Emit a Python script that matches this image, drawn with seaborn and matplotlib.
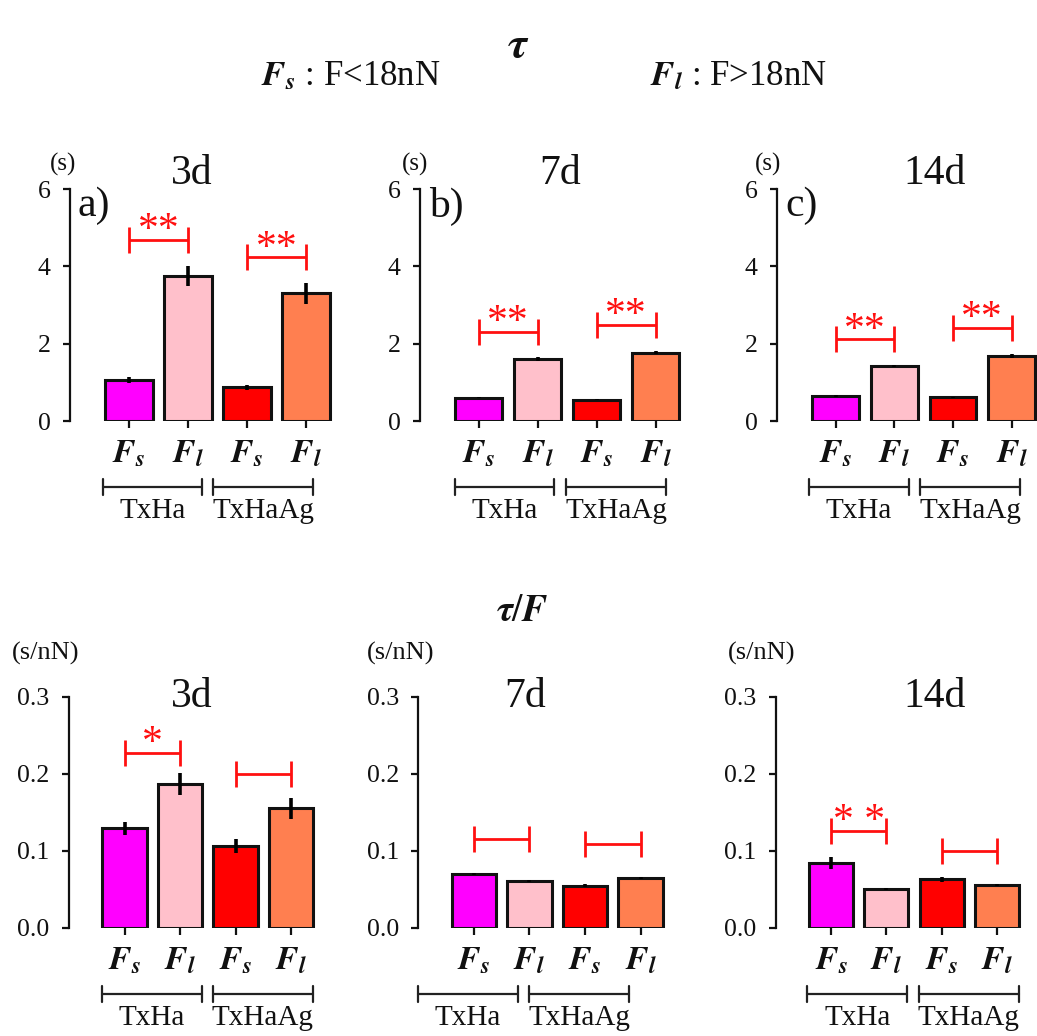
import matplotlib
matplotlib.use("Agg")
import numpy as np
import pandas as pd
import seaborn as sns
import matplotlib.pyplot as plt

sns.set_theme(style="ticks")
plt.rcParams["font.family"] = ["Liberation Serif", "DejaVu Serif"]
plt.rcParams["mathtext.fontset"] = "stix"

# ---- data -------------------------------------------------------------
bar_keys = ["TxHa Fs", "TxHa Fl", "TxHaAg Fs", "TxHaAg Fl"]
bar_colors = ["#FF00FF", "#FFC0CB", "#FF0000", "#FF7F50"]
force_labels = [r"$\mathbfit{F_s}$", r"$\mathbfit{F_l}$",
                r"$\mathbfit{F_s}$", r"$\mathbfit{F_l}$"]
group_names = ["TxHa", "TxHaAg"]
days = ["3d", "7d", "14d"]

# relaxation time tau (s)
tau_3d = [1.06, 3.75, 0.87, 3.30]
tau_3d_err = [0.09, 0.27, 0.06, 0.28]
tau_7d = [0.60, 1.60, 0.55, 1.77]
tau_7d_err = [0.01, 0.05, 0.01, 0.04]
tau_14d = [0.65, 1.43, 0.61, 1.69]
tau_14d_err = [0.02, 0.03, 0.01, 0.05]

# tau normalised by force (s/nN)
tauF_3d = [0.129, 0.187, 0.106, 0.155]
tauF_3d_err = [0.0086, 0.014, 0.009, 0.014]
tauF_7d = [0.0698, 0.061, 0.0547, 0.0646]
tauF_7d_err = [0.001, 0.0015, 0.002, 0.0015]
tauF_14d = [0.084, 0.0508, 0.063, 0.056]
tauF_14d_err = [0.0075, 0.001, 0.003, 0.0012]

# significance brackets: height of each bracket and its star label
tau_sig_y = [[4.68, 4.23], [2.31, 2.48], [2.11, 2.41]]
tau_sig_txt = [["**", "**"], ["**", "**"], ["**", "**"]]
tauF_sig_y = [[0.227, 0.199], [0.115, 0.109], [0.126, 0.100]]
tauF_sig_txt = [["*", ""], ["", ""], ["* *", ""]]

W, H = 1037, 1036
fig = plt.figure(figsize=(W / 100, H / 100), dpi=100)


def fx(x):
    return x / W


def fy(y):
    return 1 - y / H


# axes frames in pixels: left, top(y of ymax), right, bottom(y of 0)
top_frames = [(70, 189, 335.5, 421), (420, 189, 685, 421), (777, 189, 1041, 421)]
bot_frames = [(69, 696.5, 319, 928), (418.3, 696.5, 668.3, 928), (775.7, 696.5, 1024.6, 928)]

# group bracket spans (axes fraction)
top_group_spans = [[(0.124, 0.497), (0.539, 0.915)],
                   [(0.132, 0.507), (0.551, 0.928)],
                   [(0.121, 0.500), (0.542, 0.920)]]
bot_group_spans = [[(0.131, 0.531), (0.575, 0.975)],
                   [(-0.002, 0.398), (0.443, 0.843)],
                   [(0.127, 0.528), (0.575, 0.976)]]

INK = "#111111"
SIG = "#FF1010"


def draw_panel(frame, values, errs, ymax, yticks, ytick_fmt, sig_y, sig_txt,
               group_spans):
    l, t, r, b = frame
    ax = fig.add_axes([fx(l), fy(b), (r - l) / W, (b - t) / H])
    df = pd.DataFrame({"cond": bar_keys, "value": values})
    sns.barplot(data=df, x="cond", y="value", hue="cond", order=bar_keys,
                hue_order=bar_keys, palette=bar_colors, legend=False,
                saturation=1, edgecolor=INK, linewidth=2.2, width=0.8, ax=ax)
    xs = np.arange(len(bar_keys))
    ax.errorbar(xs, values, yerr=errs, fmt="none", ecolor="black",
                elinewidth=2.6, capsize=0, zorder=5)
    ax.set_xlim(-1, 3.5)
    ax.set_ylim(0, ymax)
    ax.set_yticks(yticks)
    ax.set_yticklabels([ytick_fmt.format(v) for v in yticks], fontsize=18.5)
    ax.set_xticks(xs)
    ax.set_xticklabels(force_labels, fontsize=24)
    ax.set_xlabel("")
    ax.set_ylabel("")
    for s in ["top", "right", "bottom"]:
        ax.spines[s].set_visible(False)
    ax.spines["left"].set_linewidth(1.6)
    ax.spines["left"].set_color(INK)
    ax.tick_params(axis="y", length=5, width=1.6, pad=9, colors=INK)
    ax.tick_params(axis="x", length=5, width=1.6, pad=8, colors=INK)
    ax.patch.set_alpha(0)

    # significance brackets
    h = ymax * 13 / 232
    for k, (y, txt) in enumerate(zip(sig_y, sig_txt)):
        x0, x1 = xs[2 * k], xs[2 * k + 1]
        ax.plot([x0, x1], [y, y], color=SIG, lw=2.0, clip_on=False,
                solid_capstyle="butt")
        ax.vlines([x0, x1], y - h, y + h, color=SIG, lw=2.0, clip_on=False)
        if txt:
            ax.annotate(txt, xy=((x0 + x1) / 2, y), xytext=(0, -1),
                        textcoords="offset points", ha="center",
                        va="baseline", color=SIG, fontsize=30)

    # group brackets beneath the force labels
    bt = ax.transAxes
    yb = -0.285
    hb = 8 / 232
    for (a0, a1), name in zip(group_spans, group_names):
        ax.plot([a0, a1], [yb, yb], color="#222222", lw=1.6, transform=bt,
                clip_on=False)
        ax.plot([a0, a0], [yb - hb, yb + hb], color="#222222", lw=1.6,
                transform=bt, clip_on=False)
        ax.plot([a1, a1], [yb - hb, yb + hb], color="#222222", lw=1.6,
                transform=bt, clip_on=False)
        ax.text((a0 + a1) / 2, -0.39, name, transform=bt, ha="center",
                va="center", fontsize=21, color=INK)
    return ax


tau_vals = [tau_3d, tau_7d, tau_14d]
tau_errs = [tau_3d_err, tau_7d_err, tau_14d_err]
tauF_vals = [tauF_3d, tauF_7d, tauF_14d]
tauF_errs = [tauF_3d_err, tauF_7d_err, tauF_14d_err]

for i in range(3):
    draw_panel(top_frames[i], tau_vals[i], tau_errs[i], 6, [0, 2, 4, 6],
               "{:g}", tau_sig_y[i], tau_sig_txt[i], top_group_spans[i])
    draw_panel(bot_frames[i], tauF_vals[i], tauF_errs[i], 0.3,
               [0.0, 0.1, 0.2, 0.3], "{:.1f}", tauF_sig_y[i], tauF_sig_txt[i],
               bot_group_spans[i])

# panel titles
top_title_x = [191.7, 560, 935]
bot_title_x = [191.7, 525, 935]
for i, d in enumerate(days):
    fig.text(fx(top_title_x[i]), fy(174), d, ha="center", va="center",
             fontsize=30, color=INK)
    fig.text(fx(bot_title_x[i]), fy(697), d, ha="center", va="center",
             fontsize=30, color=INK)

# panel letters
for x, s in zip([94, 446.5, 802], ["a)", "b)", "c)"]):
    fig.text(fx(x), fy(206), s, ha="center", va="center", fontsize=30,
             color=INK)

# unit labels
for x in [63.5, 415, 768.5]:
    fig.text(fx(x), fy(164), "(s)", ha="center", va="center", fontsize=18,
             color=INK)
for x in [45.5, 401, 761.5]:
    fig.text(fx(x), fy(653), "(s/nN)", ha="center", va="center", fontsize=19,
             color=INK)

# headers
fig.text(fx(518), fy(46), r"$\mathbfit{\tau}$", ha="center", va="center",
         fontsize=32, color=INK)
fig.text(fx(351), fy(77), r"$\mathbfit{F_s}$ : F<18nN", ha="center",
         va="center", fontsize=25, color=INK)
fig.text(fx(738), fy(77), r"$\mathbfit{F_l}$ : F>18nN", ha="center",
         va="center", fontsize=25, color=INK)
fig.text(fx(522), fy(612), r"$\mathbfit{\tau}/\mathbfit{F}$", ha="center",
         va="center", fontsize=27, color=INK)

fig.savefig("out.png", dpi=100)
